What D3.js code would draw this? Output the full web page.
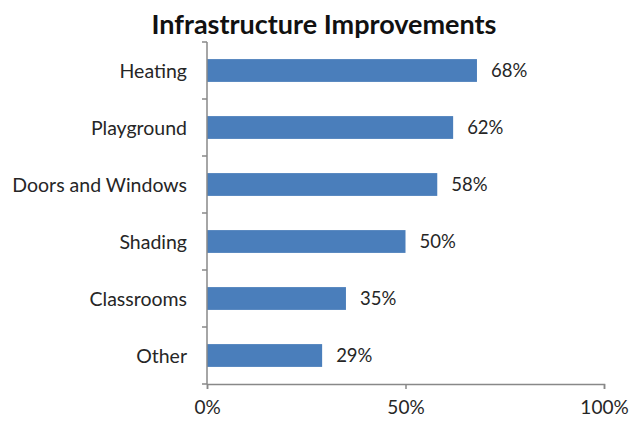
<!DOCTYPE html>
<html>
<head>
<meta charset="utf-8">
<script src="https://cdn.jsdelivr.net/npm/d3@7"></script>
<style>
  html, body { margin: 0; padding: 0; background: #fff; }
  svg { display: block; }
  text { font-family: Lato, "Open Sans", sans-serif; fill: #262626; }
</style>
</head>
<body>
<svg id="chart" width="629" height="421"></svg>
<script>
// Share of respondents naming each infrastructure improvement
const categories = ["Heating", "Playground", "Doors and Windows", "Shading", "Classrooms", "Other"];
const values = [68, 62, 58, 50, 35, 29];
const tickValues = [0, 50, 100];
const chartTitle = "Infrastructure Improvements";

const width = 629, height = 421;
const margin = { top: 42, right: 25, bottom: 37, left: 207 };

const svg = d3.select("#chart");

const x = d3.scaleLinear()
  .domain([0, 100])
  .range([margin.left, 604]);

const y = d3.scaleBand()
  .domain(categories)
  .range([margin.top, height - margin.bottom])
  .paddingInner(0.6)
  .paddingOuter(0.3);

// Title
svg.append("text")
  .attr("x", 324)
  .attr("y", 34)
  .attr("text-anchor", "middle")
  .style("font-size", "27px")
  .style("font-weight", "bold")
  .style("fill", "#111")
  .text(chartTitle);

// Bars
svg.append("g")
  .selectAll("rect")
  .data(values)
  .join("rect")
  .attr("x", x(0))
  .attr("y", (d, i) => y(categories[i]))
  .attr("width", d => x(d) - x(0))
  .attr("height", y.bandwidth())
  .attr("fill", "#4a7ebb");

// Value labels
svg.append("g")
  .selectAll("text")
  .data(values)
  .join("text")
  .attr("x", d => x(d) + 14)
  .attr("y", (d, i) => y(categories[i]) + y.bandwidth() / 2)
  .attr("dy", "0.36em")
  .style("font-size", "18.5px")
  .text(d => d + "%");

// Category axis: boundary ticks between bands, labels centred on bands
const step = y.step();
const boundaries = d3.range(categories.length + 1).map(i => margin.top + i * step);
const yAxis = svg.append("g");
yAxis.append("line")
  .attr("x1", x(0)).attr("x2", x(0))
  .attr("y1", margin.top).attr("y2", height - margin.bottom)
  .attr("stroke", "#888").attr("stroke-width", 1.5);
yAxis.selectAll("line.tick")
  .data(boundaries)
  .join("line")
  .attr("class", "tick")
  .attr("x1", x(0) - 5).attr("x2", x(0))
  .attr("y1", d => d).attr("y2", d => d)
  .attr("stroke", "#888").attr("stroke-width", 1.5);
yAxis.selectAll("text")
  .data(categories)
  .join("text")
  .attr("x", x(0) - 20)
  .attr("y", d => y(d) + y.bandwidth() / 2)
  .attr("dy", "0.36em")
  .attr("text-anchor", "end")
  .style("font-size", "19.5px")
  .text(d => d);

// Value axis
const xAxis = d3.axisBottom(x)
  .tickValues(tickValues)
  .tickFormat(d => d + "%")
  .tickSize(5)
  .tickPadding(12);
const gx = svg.append("g")
  .attr("transform", `translate(0,${height - margin.bottom})`)
  .call(xAxis);
gx.select(".domain").attr("stroke", "#888").attr("stroke-width", 1.5);
gx.selectAll(".tick line").attr("stroke", "#888").attr("stroke-width", 1.5);
gx.selectAll(".tick text")
  .style("font-size", "19px")
  .style("font-family", "Lato, 'Open Sans', sans-serif")
  .attr("fill", "#262626");
</script>
</body>
</html>
